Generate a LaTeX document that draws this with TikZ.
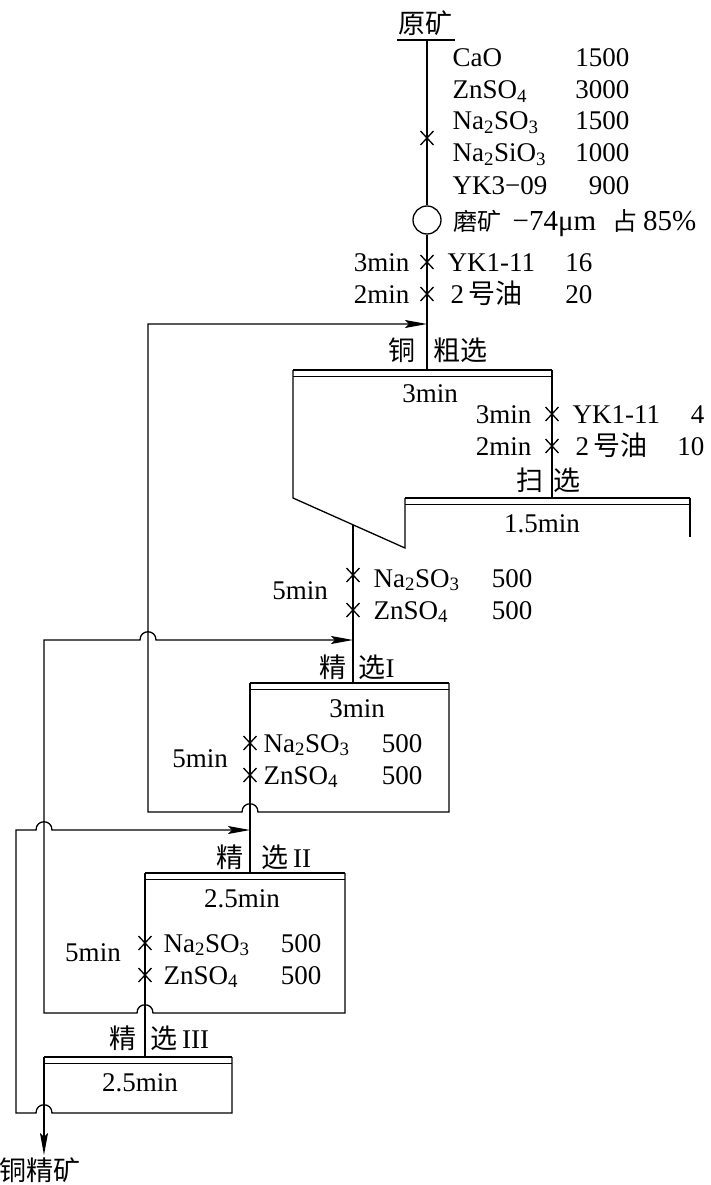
\documentclass[tikz,border=0pt]{standalone}
\usepackage{fontspec}
\setmainfont{Liberation Serif}
\newfontfamily\cjk{Noto Sans CJK SC}
\usetikzlibrary{arrows.meta}
\newcommand\tsb[1]{\textsubscript{#1}}
\newcommand\cellbar[3]{\draw[bar] (#1,#3) -- (#2,#3); \draw[sbar] (#1,#3+6) -- (#2,#3+6);}
\begin{document}
\begin{tikzpicture}[x=1pt,y=-1pt,line width=1.3pt,
  bar/.style={line width=2.8pt},
  sbar/.style={line width=1pt},
  lb/.style={inner sep=0pt, font=\fontsize{27}{30}\selectfont},
  ll/.style={lb, anchor=base west},
  lr/.style={lb, anchor=base east},
  lc/.style={lb, anchor=base},
  zc/.style={lb, anchor=base, font=\fontsize{27}{30}\selectfont\cjk},
  arr/.style={-{Stealth[length=22pt,width=8pt,inset=4pt]}},
  crs/.pic={\draw[line width=1.3pt] (-6.5,-7) -- (6.5,7) (-6.5,7) -- (6.5,-7);}
]
\useasboundingbox (0,0) rectangle (711,1185);

% ---------- feed ----------
\node[zc] (ore) at (425,34) {原矿};
\draw[bar] (397,40) -- (455,40);
\coordinate (feedtop) at (427,40);
\node[circle, draw, minimum size=28pt, inner sep=0pt] (mill) at (427,220) {};
\coordinate (rtop) at (427,370);
\draw (feedtop) -- (mill.north);
\draw (mill.south) -- (rtop);
\pic at (427,138) {crs};
\pic at (427,262) {crs};
\pic at (427,294) {crs};

\node[ll] (r1) at (452,67) {CaO};            \node[lr] (n1) at (630,67) {1500};
\node[ll] (r2) at (452,99) {ZnSO\tsb{4}};    \node[lr] (n2) at (630,99) {3000};
\node[ll] (r3) at (452,130) {Na\tsb{2}SO\tsb{3}}; \node[lr] (n3) at (630,130) {1500};
\node[ll] (r4) at (452,162) {Na\tsb{2}SiO\tsb{3}}; \node[lr] (n4) at (630,162) {1000};
\node[ll] (r5) at (452,194) {YK3−09};        \node[lr] (n5) at (630,194) {900};
\node[zc, anchor=base west, font=\fontsize{24}{28}\selectfont\cjk] (m1) at (453,230) {磨矿};
\node[ll, font=\fontsize{29}{30}\selectfont] (m2) at (512,230) {−74μm};
\node[zc, anchor=base west, font=\fontsize{25}{28}\selectfont\cjk] (m3) at (612,230) {占};
\node[lr, font=\fontsize{29}{30}\selectfont] (m4) at (697,230) {85\%};

\node[lr] (t1) at (410,271) {3min};
\node[lr] (t2) at (410,303) {2min};
\node[ll] (r6) at (447,271) {YK1-11};        \node[lr] (n6) at (593,271) {16};
\node[ll] (r7) at (450,303) {2\,{\cjk 号油}}; \node[lr] (n7) at (593,303) {20};

% ---------- rougher / scavenger ----------
\node[zc] (cu) at (402,360) {铜};
\node[zc] (rough) at (460,360) {粗选};
\cellbar{293}{552}{370}
\coordinate (rL) at (293,370);
\coordinate (rR) at (552,370);
\coordinate (dA) at (293,498);
\coordinate (dB) at (405,548);
\coordinate (sL) at (405,498);
\coordinate (sR) at (690,498);
\draw (rL) -- (dA) -- (dB) -- (sL);
\draw (rR) -- (552,498);
\cellbar{405}{690}{498}
\draw (sR) -- (690,537);
\node[lc] (rt) at (430,402) {3min};
\pic at (552,414) {crs};
\pic at (552,446) {crs};
\node[lr] (t3) at (532,423) {3min};
\node[lr] (t4) at (532,455) {2min};
\node[ll] (r8) at (572,423) {YK1-11};        \node[lr] (n8) at (705,423) {4};
\node[ll] (r9) at (575,455) {2\,{\cjk 号油}}; \node[lr] (n9) at (705,455) {10};
\node[zc] (sc1) at (530,490) {扫};
\node[zc] (sc2) at (567,490) {选};
\node[lc] (st) at (542,532) {1.5min};

% ---------- cleaner I ----------
\coordinate (c1top) at (353,683);
\draw (353,525) -- (c1top);
\pic at (353,575) {crs};
\pic at (353,610) {crs};
\node[lc] (t5) at (300,599) {5min};
\node[ll] (r10) at (373,587) {Na\tsb{2}SO\tsb{3}}; \node[lr] (n10) at (533,587) {500};
\node[ll] (r11) at (373,619) {ZnSO\tsb{4}};       \node[lr] (n11) at (533,619) {500};
\node[zc] (j1a) at (333,677) {精};
\node[ll] (j1b) at (358,677) {{\cjk 选}I};
\cellbar{250}{449}{683}
\node[lc] (c1t) at (357,717) {3min};
\coordinate (c2top) at (250,873);
\draw (250,683) -- (c2top);
\pic at (250,743) {crs};
\pic at (250,775) {crs};
\node[lc] (t6) at (200,767) {5min};
\node[ll] (r12) at (263,752) {Na\tsb{2}SO\tsb{3}}; \node[lr] (n12) at (423,752) {500};
\node[ll] (r13) at (263,784) {ZnSO\tsb{4}};       \node[lr] (n13) at (423,784) {500};
% cleaner I tailings back to rougher
\draw[arr] (449,683) -- (449,812) -- (258,812) .. controls (258,801) and (242,801) .. (242,812)
  -- (148,812) -- (148,324) -- (427,324);

% ---------- cleaner II ----------
\node[zc] (j2a) at (230,867) {精};
\node[ll] (j2b) at (261,867) {{\cjk 选}\,II};
\cellbar{145}{345}{873}
\node[lc] (c2t) at (242,907) {2.5min};
\coordinate (c3top) at (145,1057);
\draw (145,873) -- (c3top);
\pic at (145,943) {crs};
\pic at (145,975) {crs};
\node[lc] (t7) at (93,961) {5min};
\node[ll] (r14) at (163,952) {Na\tsb{2}SO\tsb{3}}; \node[lr] (n14) at (322,952) {500};
\node[ll] (r15) at (163,984) {ZnSO\tsb{4}};       \node[lr] (n15) at (322,984) {500};
% cleaner II tailings back to cleaner I
\draw[arr] (345,873) -- (345,1013) -- (153,1013) .. controls (153,1002) and (137,1002) .. (137,1013)
  -- (44,1013) -- (44,640) -- (140,640) .. controls (140,629) and (156,629) .. (156,640) -- (353,640);

% ---------- cleaner III ----------
\node[zc] (j3a) at (123,1048) {精};
\node[ll] (j3b) at (150,1048) {{\cjk 选}\,III};
\cellbar{44}{232}{1057}
\node[lc] (c3t) at (140,1091) {2.5min};
% cleaner III tailings back to cleaner II
\draw[arr] (232,1057) -- (232,1113) -- (52,1113) .. controls (52,1102) and (36,1102) .. (36,1113)
  -- (16,1113) -- (16,830) -- (36,830) .. controls (36,819) and (52,819) .. (52,830) -- (250,830);
% final concentrate
\node[zc] (conc) at (40,1180) {铜精矿};
\draw[arr] (44,1057) -- (44,1155);
\end{tikzpicture}
\end{document}
